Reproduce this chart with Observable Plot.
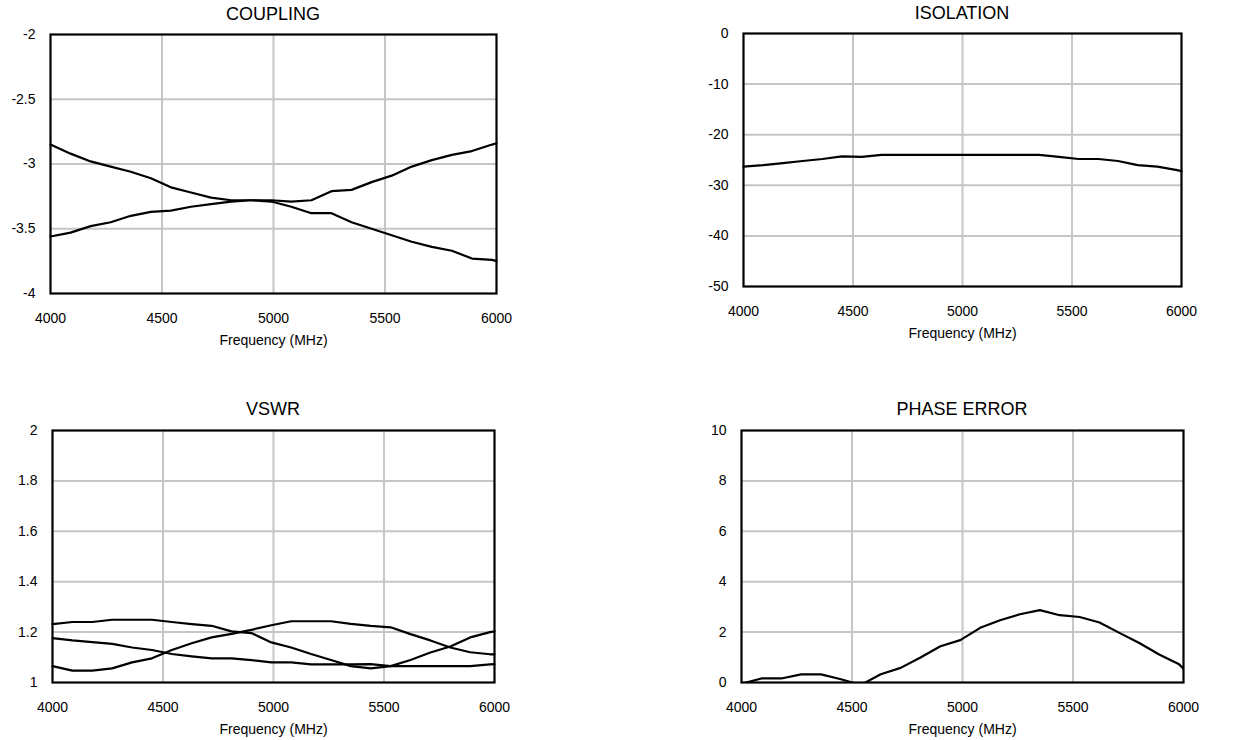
<!DOCTYPE html>
<html><head><meta charset="utf-8">
<script src="https://cdn.jsdelivr.net/npm/d3@7"></script>
<script src="https://cdn.jsdelivr.net/npm/@observablehq/plot@0.6"></script>
<style>
body{margin:0;background:#fff;font-family:"Liberation Sans",Arial,sans-serif;}
#root{position:relative;width:1245px;height:740px;overflow:hidden;background:#fff}
.panel{position:absolute}
.title{position:absolute;font-size:18px;line-height:18px;text-align:center;color:#000;width:300px;white-space:nowrap}
</style></head><body><div id="root"></div>
<script>
// ---- data ----
const freq = [4000,4090,4180,4270,4360,4450,4540,4630,4720,4810,4900,4990,5080,5170,5260,5350,5440,5530,5620,5710,5800,5890,5980,6000];

const couplingA = [-2.85,-2.92,-2.98,-3.02,-3.06,-3.11,-3.18,-3.22,-3.26,-3.28,-3.28,-3.29,-3.33,-3.38,-3.38,-3.45,-3.50,-3.55,-3.60,-3.64,-3.67,-3.73,-3.74,-3.75];
const couplingB = [-3.56,-3.53,-3.48,-3.45,-3.40,-3.37,-3.36,-3.33,-3.31,-3.29,-3.28,-3.28,-3.29,-3.28,-3.21,-3.20,-3.14,-3.09,-3.02,-2.97,-2.93,-2.90,-2.85,-2.84];

const isolation = [-26.3,-26.0,-25.6,-25.2,-24.8,-24.3,-24.4,-24.0,-24.0,-24.0,-24.0,-24.0,-24.0,-24.0,-24.0,-24.0,-24.4,-24.8,-24.8,-25.2,-26.0,-26.3,-27.0,-27.2];

const vswr1 = [1.232,1.240,1.240,1.249,1.249,1.249,1.240,1.232,1.225,1.203,1.196,1.159,1.139,1.113,1.089,1.065,1.056,1.065,1.089,1.119,1.143,1.179,1.200,1.203];
const vswr2 = [1.176,1.167,1.160,1.153,1.139,1.129,1.113,1.104,1.096,1.096,1.089,1.080,1.080,1.072,1.072,1.072,1.073,1.065,1.065,1.065,1.065,1.065,1.072,1.073];
const vswr3 = [1.065,1.047,1.047,1.056,1.080,1.096,1.129,1.156,1.179,1.193,1.209,1.227,1.243,1.243,1.243,1.233,1.225,1.219,1.192,1.167,1.139,1.120,1.112,1.112];

const phaseError = [-0.05,0.16,0.16,0.32,0.32,0.13,-0.10,0.33,0.58,0.99,1.44,1.68,2.17,2.47,2.71,2.87,2.67,2.60,2.38,1.97,1.57,1.11,0.72,0.55];

const xTicks = [4000,4500,5000,5500,6000];
const couplingTicks = [-2,-2.5,-3,-3.5,-4];
const isolationTicks = [0,-10,-20,-30,-40,-50];
const vswrTicks = [2,1.8,1.6,1.4,1.2,1];
const phaseTicks = [10,8,6,4,2,0];

const titles = ["COUPLING","ISOLATION","VSWR","PHASE ERROR"];
const xLabel = "Frequency (MHz)";

// ---- build ----
function table(seriesList){
  const rows=[];
  seriesList.forEach((vals,si)=>vals.forEach((v,i)=>rows.push({f:freq[i],v,s:si})));
  return rows;
}

const panels = [
  {title:titles[0], l:50, t:34, r:496, b:293, domain:[-4,-2], ticks:couplingTicks, data:table([couplingA,couplingB]), titleY:5},
  {title:titles[1], l:743, t:33, r:1181, b:286, domain:[-50,0], ticks:isolationTicks, data:table([isolation]), titleY:4},
  {title:titles[2], l:52, t:430, r:494, b:682, domain:[1,2], ticks:vswrTicks, data:table([vswr1,vswr2,vswr3]), titleY:400},
  {title:titles[3], l:741, t:430, r:1183, b:682, domain:[0,10], ticks:phaseTicks, data:table([phaseError]), titleY:400, clip:true}
];

const root = document.getElementById("root");
const mL=60, mT=10, mR=30, mB=75;

for (const p of panels){
  const w = p.r-p.l, h = p.b-p.t;
  const lo = Math.min(...p.domain), hi = Math.max(...p.domain);
  const inner = p.ticks.filter(d=>d!==lo && d!==hi);
  const chart = Plot.plot({
    width: w+mL+mR, height: h+mT+mB,
    marginLeft:mL, marginTop:mT, marginRight:mR, marginBottom:mB,
    style:{fontFamily:'"Liberation Sans", Arial, sans-serif', fontSize:"14px", color:"#000", background:"transparent", overflow:"visible"},
    x:{domain:[4000,6000], axis:null},
    y:{domain:p.domain, axis:null},
    marks:[
      Plot.gridX({ticks:[4500,5000,5500], stroke:"#c6c6c6", strokeOpacity:1, strokeWidth:2}),
      Plot.gridY({ticks:inner, stroke:"#c6c6c6", strokeOpacity:1, strokeWidth:2}),
      Plot.line(p.data, {x:"f", y:"v", z:"s", stroke:"#000", strokeWidth:2.2, clip: p.clip ? true : false}),
      Plot.frame({stroke:"#000", strokeWidth:2.2}),
      Plot.axisX({ticks:xTicks, tickSize:0, tickPadding:20, tickFormat:d=>String(d), fontSize:14,
        label:xLabel, labelAnchor:"center", labelArrow:"none", labelOffset:51}),
      Plot.axisY({ticks:p.ticks, tickSize:0, tickPadding:15, tickFormat:d=>String(d), fontSize:14, label:null})
    ]
  });
  chart.classList.add("panel");
  chart.style.left = (p.l-mL)+"px";
  chart.style.top = (p.t-mT)+"px";
  root.appendChild(chart);

  const t = document.createElement("div");
  t.className="title";
  t.textContent = p.title;
  t.style.left = ((p.l+p.r)/2-150)+"px";
  t.style.top = p.titleY+"px";
  root.appendChild(t);
}
</script></body></html>
